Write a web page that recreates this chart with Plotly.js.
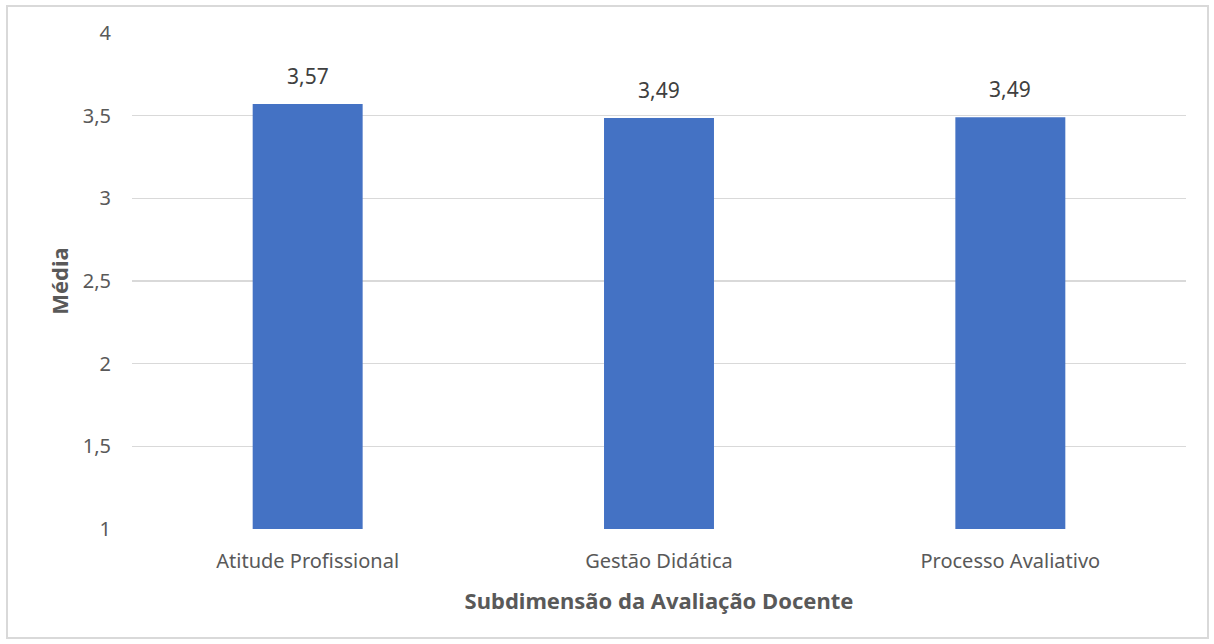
<!DOCTYPE html>
<html>
<head>
<meta charset="utf-8">
<script src="https://cdn.plot.ly/plotly-3.0.1.min.js"></script>
<style>
html,body{margin:0;padding:0;background:#fff;}
#frame{position:absolute;left:6px;top:5px;width:1199px;height:630px;border:2px solid #d9d9d9;pointer-events:none;z-index:5;}
#chart{position:absolute;left:0;top:0;width:1214px;height:644px;}
</style>
</head>
<body>
<div id="chart"></div>
<div id="frame"></div>
<script>
const categories = ["Atitude Profissional", "Gestão Didática", "Processo Avaliativo"];
const values = [3.57, 3.486, 3.49];
const valueLabels = ["3,57", "3,49", "3,49"];
const yTickVals = [1, 1.5, 2, 2.5, 3, 3.5, 4];
const yTickText = ["1", "1,5", "2", "2,5", "3", "3,5", "4"];

const fontFam = "Noto Sans, Open Sans, sans-serif";
const grey = "#595959";

const trace = {
  type: "bar",
  x: categories,
  y: values,
  marker: {color: "#4472c4"},
  width: 0.313,
  hoverinfo: "none"
};

const annotations = categories.map((c, i) => ({
  x: c, y: values[i], xref: "x", yref: "y",
  text: valueLabels[i], showarrow: false,
  yanchor: "bottom", yshift: 12,
  font: {family: fontFam, size: 21, color: "#404040"}
}));

const layout = {
  width: 1214, height: 644,
  margin: {l: 132, r: 28, t: 33, b: 115},
  paper_bgcolor: "#fff", plot_bgcolor: "#fff",
  showlegend: false,
  bargap: 0.687,
  xaxis: {
    type: "category",
    tickfont: {family: fontFam, size: 20, color: grey},
    ticks: "", showline: false, showgrid: false, zeroline: false,
    ticklabelstandoff: 18,
    title: {text: "<b>Subdimensão da Avaliação Docente</b>", font: {family: fontFam, size: 22, color: grey}, standoff: 20}
  },
  yaxis: {
    range: [1, 4],
    tickvals: yTickVals, ticktext: yTickText,
    tickfont: {family: fontFam, size: 20, color: grey},
    showgrid: true, gridcolor: "#d9d9d9", gridwidth: 1.5,
    zeroline: false, showline: false, ticks: "",
    ticklabelstandoff: 20,
    title: {text: "<b>Média</b>", font: {family: fontFam, size: 22, color: grey}, standoff: 8}
  },
  annotations: annotations
};

Plotly.newPlot("chart", [trace], layout, {displayModeBar: false, staticPlot: true});
</script>
</body>
</html>
